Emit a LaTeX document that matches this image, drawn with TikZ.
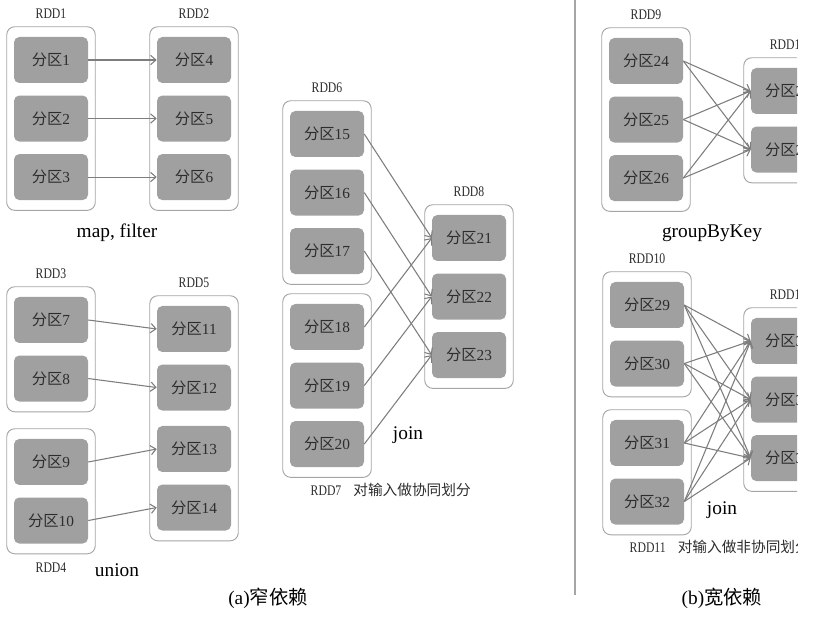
\documentclass[tikz,border=0pt]{standalone}
\usepackage{fontspec}
\setmainfont{Liberation Serif}
\newfontfamily\cjk{Noto Sans CJK SC}
\newfontfamily\rddfont[FakeStretch=0.8]{Liberation Serif}
\usetikzlibrary{positioning}
\usetikzlibrary{fit}
\usetikzlibrary{arrows.meta}
\definecolor{partgray}{RGB}{160,160,160}
\definecolor{boxgray}{RGB}{165,165,165}
\definecolor{linegray}{RGB}{125,125,125}
\definecolor{txtgray}{RGB}{45,45,45}
\newcommand{\fenqu}[1]{{\cjk 分区}#1}

\begin{document}
\begin{tikzpicture}[x=0.75pt, y=-0.75pt,
    part/.style={fill=partgray, rounded corners=4pt, minimum width=55.5pt, minimum height=34.5pt, text=txtgray, font=\fontsize{11.5}{13}\selectfont},
    rdd/.style={draw=boxgray, line width=0.7pt, rounded corners=6pt, inner xsep=5.25pt, inner ysep=7.5pt},
    rddname/.style={text=txtgray, font=\rddfont\fontsize{11}{13}\selectfont},
    opname/.style={font=\fontsize{14.5}{17}\selectfont},
    dep/.style={draw=linegray, line width=0.8pt, -{Straight Barb[length=4pt,width=7pt]}},
    node distance=9pt]
        \useasboundingbox (0,0) rectangle (829,623);
        \begin{scope}
        \clip (0,0) rectangle (797,623);

        % (a) map, filter %
        \node[part] (p1) at (51,60) {\fenqu{1}};
        \node[part, below=of p1] (p2) {\fenqu{2}};
        \node[part, below=of p2] (p3) {\fenqu{3}};
        \node[part] (p4) at (194,60) {\fenqu{4}};
        \node[part, below=of p4] (p5) {\fenqu{5}};
        \node[part, below=of p5] (p6) {\fenqu{6}};
        \node[rdd, fit=(p1)(p3)] (rdd1) {};
        \node[rdd, fit=(p4)(p6)] (rdd2) {};
        \node[rddname, above=2pt of rdd1] (rdd1name) {RDD1};
        \node[rddname, above=2pt of rdd2] (rdd2name) {RDD2};
        \node[opname] (mapop) at (117,233) {map, filter};

        \draw[dep] (p1.east) -- (p4.west);
        \draw[dep] (p2.east) -- (p5.west);
        \draw[dep] (p3.east) -- (p6.west);

        % (a) union %
        \node[part] (p7) at (51,320) {\fenqu{7}};
        \node[part, below=of p7] (p8) {\fenqu{8}};
        \node[part] (p9) at (51,462) {\fenqu{9}};
        \node[part, below=of p9] (p10) {\fenqu{10}};
        \node[part] (p11) at (194,329) {\fenqu{11}};
        \node[part, below=of p11] (p12) {\fenqu{12}};
        \node[part] (p13) at (194,449) {\fenqu{13}};
        \node[part, below=of p13] (p14) {\fenqu{14}};
        \node[rdd, fit=(p7)(p8)] (rdd3) {};
        \node[rdd, fit=(p9)(p10)] (rdd4) {};
        \node[rdd, fit=(p11)(p14)] (rdd5) {};
        \node[rddname, above=2pt of rdd3] (rdd3name) {RDD3};
        \node[rddname, below=3pt of rdd4] (rdd4name) {RDD4};
        \node[rddname, above=2pt of rdd5] (rdd5name) {RDD5};
        \node[opname] (unionop) at (117,570) {union};

        \draw[dep] (p7.east) -- (p11.west);
        \draw[dep] (p8.east) -- (p12.west);
        \draw[dep] (p9.east) -- (p13.west);
        \draw[dep] (p10.east) -- (p14.west);

        % (a) join %
        \node[part] (p15) at (327,134) {\fenqu{15}};
        \node[part, below=of p15] (p16) {\fenqu{16}};
        \node[part, below=of p16] (p17) {\fenqu{17}};
        \node[part] (p18) at (327,327) {\fenqu{18}};
        \node[part, below=of p18] (p19) {\fenqu{19}};
        \node[part, below=of p19] (p20) {\fenqu{20}};
        \node[part] (p21) at (469,238) {\fenqu{21}};
        \node[part, below=of p21] (p22) {\fenqu{22}};
        \node[part, below=of p22] (p23) {\fenqu{23}};
        \node[rdd, fit=(p15)(p17)] (rdd6) {};
        \node[rdd, fit=(p18)(p20)] (rdd7) {};
        \node[rdd, fit=(p21)(p23)] (rdd8) {};
        \node[rddname, above=2pt of rdd6] (rdd6name) {RDD6};
        \node[rddname, above=2pt of rdd8] (rdd8name) {RDD8};
        \node[rddname, anchor=west] (rdd7name) at (306,490) {RDD7\hspace{9pt}{\cjk\fontsize{11}{13}\selectfont 对输入做协同划分}};
        \node[opname] (joinop) at (408,435) {join};

        \draw[dep] (p15.east) -- (p21.west);
        \draw[dep] (p16.east) -- (p22.west);
        \draw[dep] (p17.east) -- (p23.west);
        \draw[dep] (p18.east) -- (p21.west);
        \draw[dep] (p19.east) -- (p22.west);
        \draw[dep] (p20.east) -- (p23.west);

        \node[opname] (narrow) at (268,598) {(a){\cjk 窄依赖}};

        % divider %
        \draw[draw=boxgray, line width=1.2pt] (575,0) -- (575,595);

        % (b) groupByKey %
        \node[part] (p24) at (646,61) {\fenqu{24}};
        \node[part, below=of p24] (p25) {\fenqu{25}};
        \node[part, below=of p25] (p26) {\fenqu{26}};
        \node[part] (p27) at (788,91) {\fenqu{27}};
        \node[part, below=of p27] (p28) {\fenqu{28}};
        \node[rdd, fit=(p24)(p26)] (rdd9) {};
        \node[rdd, fit=(p27)(p28)] (rdd12) {};
        \node[rddname, above=2pt of rdd9] (rdd9name) {RDD9};
        \node[rddname, above=2pt of rdd12] (rdd12name) {RDD12};
        \node[opname] (groupop) at (712,233) {groupByKey};

        \foreach \s in {24,25,26}
            \foreach \t in {27,28}
                \draw[dep] (p\s.east) -- (p\t.west);

        % (b) join %
        \node[part] (p29) at (647,305) {\fenqu{29}};
        \node[part, below=of p29] (p30) {\fenqu{30}};
        \node[part] (p31) at (647,443) {\fenqu{31}};
        \node[part, below=of p31] (p32) {\fenqu{32}};
        \node[part] (p33) at (788,341) {\fenqu{33}};
        \node[part, below=of p33] (p34) {\fenqu{34}};
        \node[part, below=of p34] (p35) {\fenqu{35}};
        \node[rdd, fit=(p29)(p30)] (rdd10) {};
        \node[rdd, fit=(p31)(p32)] (rdd11) {};
        \node[rdd, fit=(p33)(p35)] (rdd13) {};
        \node[rddname, above=2pt of rdd10] (rdd10name) {RDD10};
        \node[rddname, above=2pt of rdd13] (rdd13name) {RDD13};
        \node[rddname, anchor=west] (rdd11name) at (625,547) {RDD11\hspace{9pt}{\cjk\fontsize{11}{13}\selectfont 对输入做非协同划分}};
        \node[opname] (joinop2) at (722,510) {join};

        \foreach \s in {29,30,31,32}
            \foreach \t in {33,34,35}
                \draw[dep] (p\s.east) -- (p\t.west);

        \node[opname] (wide) at (722,598) {(b){\cjk 宽依赖}};
        \end{scope}
\end{tikzpicture}
\end{document}
